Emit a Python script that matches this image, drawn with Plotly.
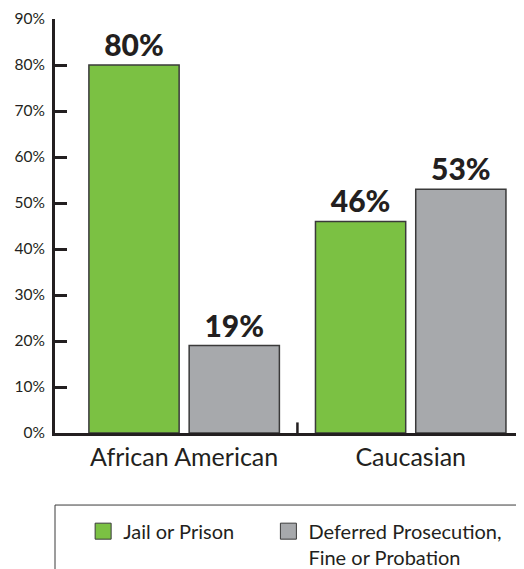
import plotly.graph_objects as go

categories = ["African American", "Caucasian"]
jail_prison = [80, 46]
deferred = [19, 53]
series_names = ["Jail or Prison", "Deferred Prosecution,<br>Fine or Probation"]
y_ticks = [0, 10, 20, 30, 40, 50, 60, 70, 80, 90]
y_tick_labels = [f"{v}%" for v in y_ticks]

GREEN = "#7bc143"
GRAY = "#a7a9ac"
DARK = "#231f20"
FONT = "Lato"

fig = go.Figure()
legend_ids = ["legend", "legend2"]
for vals, color, name, lg in [(jail_prison, GREEN, series_names[0], legend_ids[0]),
                              (deferred, GRAY, series_names[1], legend_ids[1])]:
    fig.add_trace(go.Bar(
        x=categories, y=vals, name=name, showlegend=False,
        marker=dict(color=color, line=dict(color="#3a3a3a", width=1.5)),
        text=[f"{v}%" for v in vals], texttemplate="%{text}", textposition="outside",
        textfont=dict(family=FONT, size=30, color=DARK, weight=900),
        cliponaxis=False,
    ))
    # legend-only entry with a larger square swatch
    fig.add_trace(go.Scatter(
        x=[None], y=[None], mode="markers", name=name, legend=lg,
        marker=dict(symbol="square", size=16, color=color, line=dict(color="#3a3a3a", width=1)),
    ))

# divider tick between the two categories
fig.add_shape(type="line", xref="x", yref="y", x0=0.5, x1=0.5, y0=0, y1=2.3,
              line=dict(color=DARK, width=2.5))
# legend frame (runs off the right and bottom edges as in the original)
fig.add_shape(type="rect", xref="paper", yref="paper", x0=0, x1=1.1, y0=-0.174, y1=-0.5,
              line=dict(color="#3a3a3a", width=1), fillcolor="rgba(0,0,0,0)", layer="below")

legend_common = dict(
    orientation="h", yanchor="top", y=-0.19, xanchor="left",
    borderwidth=0, bgcolor="rgba(0,0,0,0)",
    font=dict(family=FONT, size=20, color=DARK),
    itemsizing="trace", valign="top",
)

# page body has an 8px default margin; figure is sized/offset to compensate
fig.update_layout(
    width=516, height=561,
    margin=dict(l=47, r=0, t=11, b=136, autoexpand=False),
    paper_bgcolor="white", plot_bgcolor="white",
    barmode="group", bargap=0.115, bargroupgap=0.1,
    font=dict(family=FONT, color=DARK),
    showlegend=True,
    legend=dict(x=0.06, **legend_common),
    legend2=dict(x=0.455, **legend_common),
    xaxis=dict(
        type="category", range=[-0.57, 1.5],
        showline=True, linecolor=DARK, linewidth=2.5,
        ticks="", tickfont=dict(family=FONT, size=25, color=DARK),
        showgrid=False, zeroline=False, fixedrange=True, automargin=False,
    ),
    yaxis=dict(
        range=[0, 90], tickvals=y_ticks, ticktext=y_tick_labels,
        showline=True, linecolor=DARK, linewidth=3,
        ticks="inside", ticklen=12, tickwidth=2.5, tickcolor=DARK,
        tickfont=dict(family=FONT, size=15.5, color=DARK), ticklabelstandoff=4,
        showgrid=False, zeroline=False, fixedrange=True, automargin=False,
    ),
)

fig.write_html("out.html")
